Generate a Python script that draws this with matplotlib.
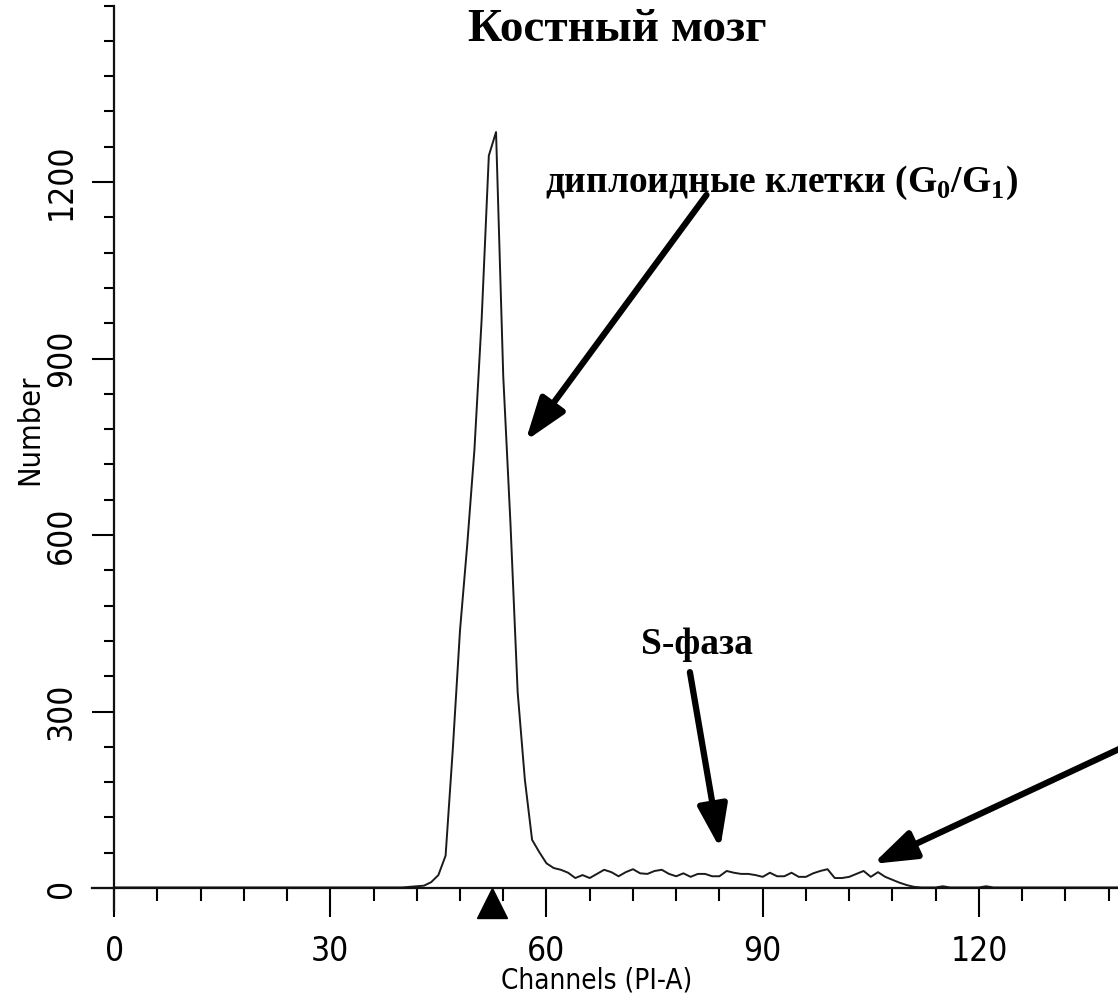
import matplotlib
matplotlib.use("Agg")
import matplotlib.pyplot as plt
from matplotlib.ticker import MultipleLocator

plt.rcParams['mathtext.fontset'] = 'custom'
plt.rcParams['mathtext.rm'] = 'Liberation Serif'
plt.rcParams['mathtext.bf'] = 'Liberation Serif:bold'

# DNA histogram, propidium iodide channel
channels = list(range(0, 141))
counts = [
    1, 1, 1, 1, 1, 1, 1, 1, 1, 1,
    1, 1, 1, 1, 1, 1, 1, 1, 1, 1,
    1, 1, 1, 1, 1, 1, 1, 1, 1, 1,
    1, 1, 1, 1, 1, 1, 1, 1, 1, 1,
    1, 2, 3, 4, 10, 22, 55, 236, 438, 583,
    745, 966, 1245, 1285, 870, 620, 333, 184, 82, 61,
    42, 34, 31, 26, 17, 22, 17, 24, 31, 27,
    20, 27, 32, 25, 24, 29, 31, 24, 20, 25,
    19, 24, 24, 20, 20, 29, 26, 24, 24, 22,
    19, 26, 20, 20, 26, 19, 19, 25, 29, 32,
    17, 17, 19, 24, 29, 19, 27, 19, 14, 9,
    5, 2, 1, 1, 1, 3, 1, 1, 1, 1,
    1, 3, 1, 1, 1, 1, 1, 1, 1, 1,
    1, 1, 1, 1, 1, 1, 1, 1, 1, 1,
    1,
]

title = "Костный мозг"
g1_label = r"диплоидные клетки (G$_\mathbf{0}$/G$_\mathbf{1}$)"
s_label = "S-фаза"
g1_marker_channel = 52.4

# arrow tips and tails, data coordinates (channel, count)
g1_arrow = ((57.1, 760), (82.2, 1178))
s_arrow = ((84.1, 67), (79.9, 367))
g2_arrow = ((105.3, 41), (150.6, 300))
g1_text_pos = (92.6, 1198)
s_text_pos = (80.9, 414)

tick_font = dict(family='DejaVu Sans', stretch='condensed', fontsize=24)
label_font = dict(family='DejaVu Sans', stretch='condensed', fontsize=20)
serif = ['Liberation Serif', 'DejaVu Serif']

fig = plt.figure(figsize=(11.18, 9.93), dpi=100)
ax = fig.add_axes([0.0827, 0.0832, 0.9218, 0.9112])

ax.plot(channels, counts, color='#1a1a1a', lw=1.4)

ax.set_xlim(-3, 140)
ax.set_ylim(-38, 1500)
ax.spines['left'].set_position(('data', 0))
ax.spines['bottom'].set_position(('data', 0))
ax.spines['top'].set_visible(False)
ax.spines['right'].set_visible(False)
for s in ('left', 'bottom'):
    ax.spines[s].set_linewidth(1.6)
    ax.spines[s].set_color('#111111')

ax.xaxis.set_minor_locator(MultipleLocator(6))
ax.yaxis.set_minor_locator(MultipleLocator(60))
ax.set_xticks([0, 30, 60, 90, 120])
ax.set_yticks([0, 300, 600, 900, 1200])
ax.tick_params(axis='x', which='major', direction='out', length=21, width=1.5, pad=13)
ax.tick_params(axis='x', which='minor', direction='out', length=9, width=1.5)
ax.tick_params(axis='y', which='major', direction='out', length=16, width=1.5, pad=10)
ax.tick_params(axis='y', which='minor', direction='out', length=7, width=1.5)
for lab in ax.get_xticklabels():
    lab.set(**tick_font)
for lab in ax.get_yticklabels():
    lab.set(**tick_font)
    lab.set_rotation(90)
    lab.set_va('center')

ax.set_xlabel("Channels (PI-A)", **label_font)
ax.xaxis.set_label_coords(0.489, -0.062)
ax.set_ylabel("Number", family='DejaVu Sans', stretch='condensed', fontsize=22)
ax.yaxis.set_label_coords(-0.047, 0.531)

# G1 mean marker under the axis
ax.plot([g1_marker_channel], [-25], marker='^', color='black', markersize=21, clip_on=False)

fig.text(617 / 1118, 1 - 30 / 993, title, family=serif, fontweight='bold',
         fontsize=34, ha='center', va='center')

ax.text(*g1_text_pos, g1_label, family=serif, fontweight='bold', fontsize=27,
        ha='center', va='center')
ax.text(*s_text_pos, s_label, family=serif, fontweight='bold', fontsize=27,
        ha='center', va='center')

arrow_kw = dict(arrowstyle='-|>,head_length=1.3,head_width=0.45', color='black',
                lw=4.5, shrinkA=0, shrinkB=0, mutation_scale=20)
for tip, tail in (g1_arrow, s_arrow, g2_arrow):
    ax.annotate('', xy=tip, xytext=tail, arrowprops=arrow_kw, annotation_clip=False)

fig.savefig('out.png', dpi=100)
